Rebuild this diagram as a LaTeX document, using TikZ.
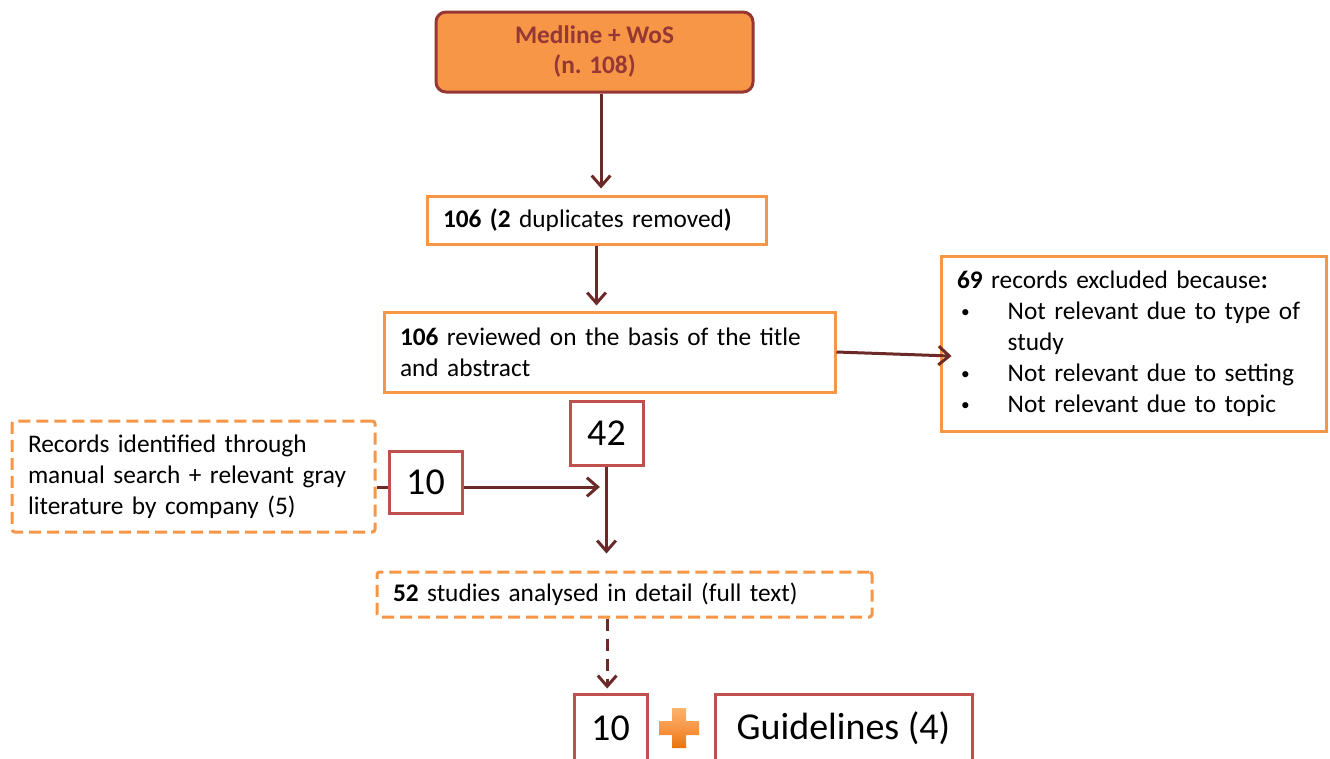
\documentclass[tikz,border=0pt]{standalone}
\usepackage{fontspec}
\setmainfont{Carlito}
\usetikzlibrary{arrows.meta,calc}
\definecolor{orng}{HTML}{F79646}
\definecolor{dred}{HTML}{953735}
\definecolor{bred}{HTML}{C0504D}
\definecolor{arr}{HTML}{6B2A27}
\definecolor{lorng}{HTML}{FBB36B}
\definecolor{korng}{HTML}{E8730C}
\newcommand{\mybul}{\makebox[38pt][l]{\hspace{3pt}\raisebox{1pt}{\fontsize{13pt}{13pt}\selectfont\textbullet}}}
\begin{document}
\begin{tikzpicture}[x=0.75pt,y=-0.75pt,
  txt/.style={font=\fontsize{19pt}{23.25pt}\selectfont},
  obox/.style={draw=orng,line width=2.25pt,fill=white,txt,inner xsep=12pt,inner ysep=0pt,align=left},
  dbox/.style={obox,dash pattern=on 9pt off 4.5pt,rounded corners=2pt},
  rbox/.style={draw=bred,line width=2.25pt,fill=white,inner sep=0pt,font=\fontsize{28.5pt}{34pt}\selectfont},
  con/.style={draw=arr,line width=2.25pt,-{Straight Barb[length=8pt,width=14pt]}},
]
\useasboundingbox (0,0) rectangle (1330,758);

\node[draw=dred,line width=2.25pt,fill=orng,rounded corners=7.5pt,
  minimum width=237.75pt,minimum height=60pt,align=center,text=dred,
  font=\bfseries\fontsize{19pt}{22.5pt}\selectfont] (b1) at (594.5,52) {Medline + WoS\\(n. 108)};

\node[obox,text width=230.25pt,minimum height=36pt] (b2) at (596.5,220)
  {\textbf{106 (2} duplicates removed\textbf{)}};

\node[obox,text width=314.25pt,minimum height=60pt] (b3) at (609.5,352)
  {\textbf{106} reviewed on the basis of the title\\and abstract};

\node[obox,text width=264.75pt,minimum height=131.25pt] (b4) at (1133.5,343.5)
  {\textbf{69} records excluded because\textbf{:}\\
   \mybul Not relevant due to type of\\
   \hspace*{38pt}study\\
   \mybul Not relevant due to setting\\
   \mybul Not relevant due to topic};

\node[rbox,minimum width=54.75pt,minimum height=48pt] (b42) at (606.5,433) {42};

\node[dbox,text width=248.25pt,minimum height=83.25pt] (bl) at (193.5,476.5)
  {Records identified through\\manual search + relevant gray\\literature by company (5)};

\node[rbox,minimum width=54.75pt,minimum height=46.5pt] (b10) at (425.5,482) {10};

\node[dbox,text width=347.25pt,minimum height=33.75pt] (b52) at (624.5,594.5)
  {\textbf{52} studies analysed in detail (full text)};

\node[rbox,minimum width=54.75pt,minimum height=51pt] (b10b) at (610.5,728) {10};
\node[rbox,minimum width=192.75pt,minimum height=51pt] (bg) at (843.5,728) {Guidelines (4)};

% plus sign
\coordinate (pc) at (679,728);
\shade[top color=lorng,bottom color=korng,middle color=orng]
  ($(pc)+(-7,-20)$) -- ($(pc)+(7,-20)$) -- ($(pc)+(7,-7)$) -- ($(pc)+(20,-7)$) --
  ($(pc)+(20,7)$) -- ($(pc)+(7,7)$) -- ($(pc)+(7,20)$) -- ($(pc)+(-7,20)$) --
  ($(pc)+(-7,7)$) -- ($(pc)+(-20,7)$) -- ($(pc)+(-20,-7)$) -- ($(pc)+(-7,-7)$) -- cycle;

% connectors
\coordinate (j10) at ([yshift=-3.75pt]b10.east);
\coordinate (jin) at ([xshift=-5pt]b42.south |- j10);
\coordinate (jl) at (bl.east |- j10);
\coordinate (jw) at (b10.west |- j10);
\draw[con,shorten >=4.5pt] ([xshift=4.9pt]b1.south) -- ([xshift=4.9pt]b1.south |- b2.north);
\draw[con,shorten >=3.75pt] (b2.south) -- (b2.south |- b3.north);
\draw[con] (b3.east) -- ([xshift=9pt,yshift=-9.4pt]b4.west);
\draw[draw=arr,line width=2.25pt] (jl) -- (jw);
\draw[con] (j10) -- (jin);
\draw[con,shorten >=12.75pt] (b42.south) -- (b42.south |- b52.north);
\draw[con,dash pattern=on 9pt off 6pt,shorten >=3pt] ([xshift=-13pt]b52.south) -- ([xshift=-13pt]b52.south |- b10b.north);
\end{tikzpicture}
\end{document}
